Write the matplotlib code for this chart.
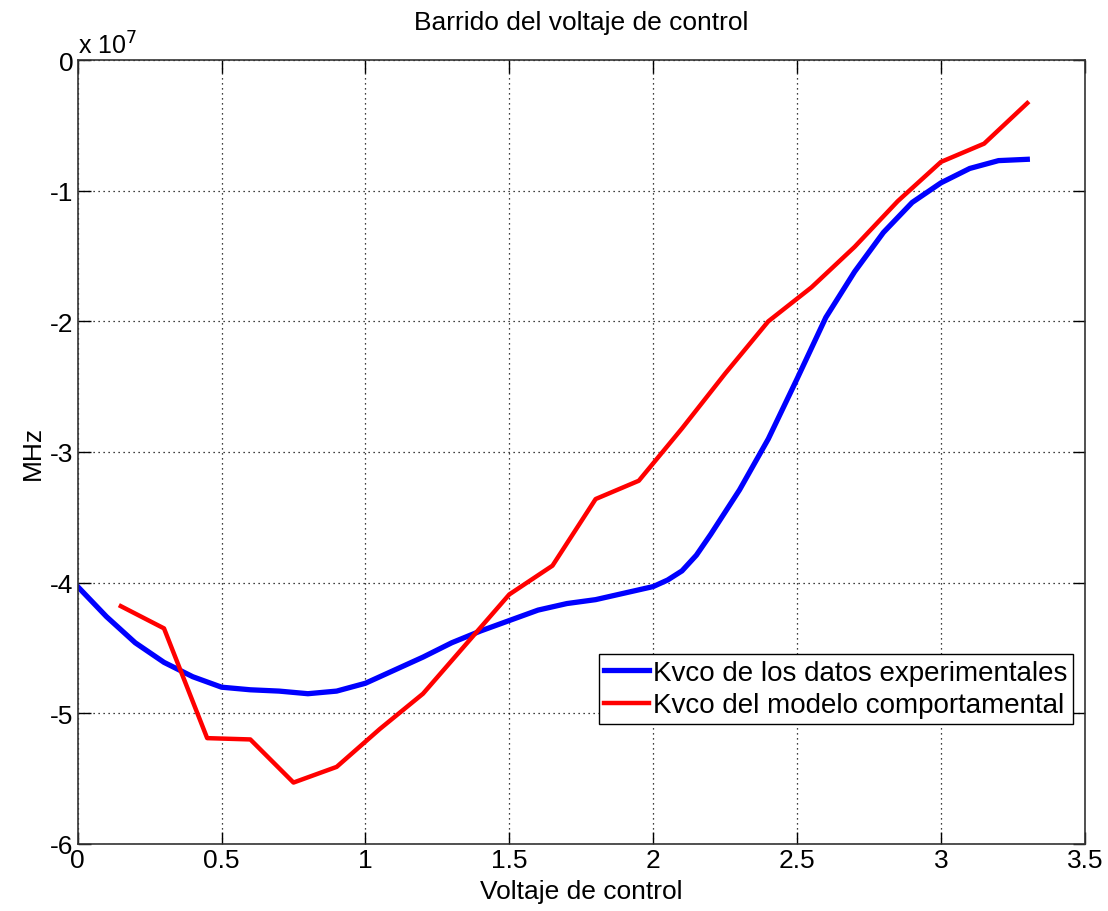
import matplotlib
matplotlib.use('Agg')
from matplotlib import pyplot as plt
from matplotlib.ticker import FuncFormatter

plt.rcParams['font.family'] = ['Liberation Sans', 'DejaVu Sans']
plt.rcParams['axes.unicode_minus'] = False

# datos experimentales (curva azul), valores en unidades de 1e7
x_exp = [0.0, 0.1, 0.2, 0.3, 0.4, 0.5, 0.6, 0.7, 0.8, 0.9, 1.0, 1.1, 1.2,
         1.3, 1.4, 1.5, 1.6, 1.7, 1.8, 1.9, 2.0, 2.05, 2.1, 2.15, 2.2, 2.3,
         2.4, 2.5, 2.6, 2.7, 2.8, 2.9, 3.0, 3.1, 3.2, 3.3]
y_exp = [-4.03, -4.26, -4.46, -4.61, -4.72, -4.80, -4.82, -4.83, -4.85,
         -4.83, -4.77, -4.67, -4.57, -4.46, -4.37, -4.29, -4.21, -4.16,
         -4.13, -4.08, -4.03, -3.98, -3.91, -3.79, -3.63, -3.29, -2.90,
         -2.44, -1.97, -1.62, -1.32, -1.09, -0.94, -0.83, -0.77, -0.76]

# modelo comportamental (curva roja)
x_mod = [0.15, 0.30, 0.45, 0.60, 0.75, 0.90, 1.05, 1.20, 1.35, 1.50, 1.65,
         1.80, 1.95, 2.10, 2.25, 2.40, 2.55, 2.70, 2.85, 3.00, 3.15, 3.30]
y_mod = [-4.18, -4.35, -5.19, -5.20, -5.53, -5.41, -5.12, -4.85, -4.47,
         -4.09, -3.87, -3.36, -3.22, -2.82, -2.40, -2.00, -1.74, -1.43,
         -1.08, -0.78, -0.64, -0.33]

escala = 1e7

fig = plt.figure(figsize=(11.08, 9.12), dpi=100)
ax = fig.add_axes([0.0701, 0.0735, 0.9090, 0.8596])

ax.plot(x_exp, [v * escala for v in y_exp], c='#0000ff', lw=3.8,
        label='Kvco de los datos experimentales')
ax.plot(x_mod, [v * escala for v in y_mod], c='#ff0000', lw=3.2,
        label='Kvco del modelo comportamental')

ax.set_xlim(0, 3.5)
ax.set_ylim(-6 * escala, 0)
ax.set_xticks([0, 0.5, 1, 1.5, 2, 2.5, 3, 3.5])
ax.set_yticks([v * escala for v in range(-6, 1)])
ax.xaxis.set_major_formatter(FuncFormatter(lambda v, p: '%g' % v))
ax.yaxis.set_major_formatter(FuncFormatter(lambda v, p: '%g' % (v / escala)))

ax.grid(True, linestyle=(0, (1, 3)), color='black', linewidth=0.9)
ax.tick_params(axis='both', direction='in', length=9, width=1,
               top=True, right=True, labelsize=19, pad=3)
for s in ax.spines.values():
    s.set_linewidth(1.2)
    s.set_color('#333333')

ax.text(0.0, 1.002, r'x 10$^7$', transform=ax.transAxes, fontsize=18,
        ha='left', va='bottom')

ax.set_title('Barrido del voltaje de control', fontsize=19, pad=22)
ax.set_xlabel('Voltaje de control', fontsize=19, labelpad=5)
ax.set_ylabel('MHz', fontsize=19, labelpad=4)

leg = ax.legend(loc='lower right', bbox_to_anchor=(0.988, 0.153),
                fontsize=20, frameon=True, fancybox=False, edgecolor='black',
                framealpha=1, handlelength=1.6, handletextpad=0.15,
                borderpad=0.2, labelspacing=0.25, borderaxespad=0)
leg.get_frame().set_linewidth(1.0)

plt.savefig('out.png', dpi=100)
